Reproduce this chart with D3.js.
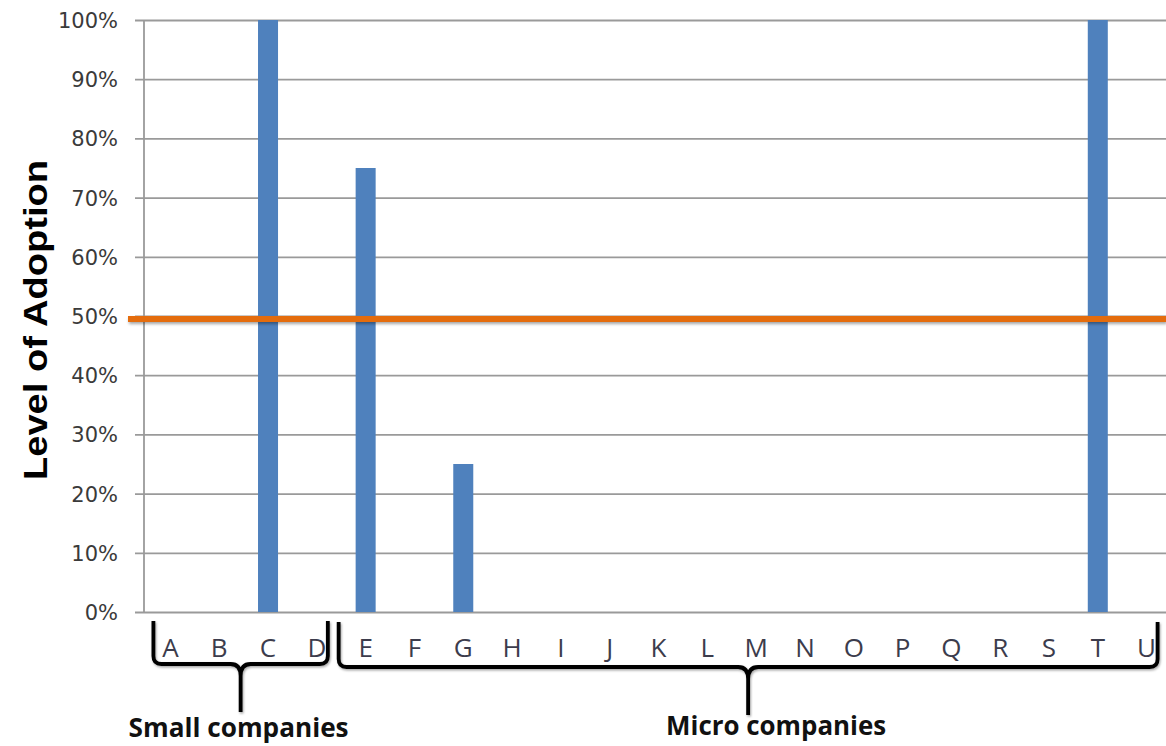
<!DOCTYPE html>
<html>
<head>
<meta charset="utf-8">
<script src="https://cdn.jsdelivr.net/npm/d3@7"></script>
<style>
  html, body { margin: 0; padding: 0; background: #fff; }
  svg { display: block; }
</style>
</head>
<body>
<svg id="chart" width="1166" height="746"></svg>
<script>
// Companies A–U and their level of adoption
const categories = ["A","B","C","D","E","F","G","H","I","J","K","L","M","N","O","P","Q","R","S","T","U"];
const adoption   = [0, 0, 1.00, 0, 0.75, 0, 0.25, 0, 0, 0, 0, 0, 0, 0, 0, 0, 0, 0, 0, 1.00, 0];
const yTicks     = [0, 0.1, 0.2, 0.3, 0.4, 0.5, 0.6, 0.7, 0.8, 0.9, 1.0];
const threshold  = 0.5;
const groups     = [
  { label: "Small companies", from: "A", to: "D" },
  { label: "Micro companies", from: "E", to: "U" }
];

const svg = d3.select("#chart");
const W = 1166, H = 746;
const plot = { left: 144, right: 1171, top: 20, bottom: 612 };

const x = d3.scaleBand().domain(categories).range([plot.left + 2, plot.right]).paddingInner(0.59).paddingOuter(0.295);
const y = d3.scaleLinear().domain([0, 1]).range([plot.bottom, plot.top]);
const cx = c => x(c) + x.bandwidth() / 2;

const defs = svg.append("defs");
const sh = defs.append("filter").attr("id", "shadow").attr("filterUnits", "userSpaceOnUse")
  .attr("x", 0).attr("y", 0).attr("width", W).attr("height", H);
sh.append("feDropShadow").attr("dx", 1).attr("dy", 2).attr("stdDeviation", 1.6).attr("flood-color", "#000").attr("flood-opacity", 0.35);
const sh2 = defs.append("filter").attr("id", "shadow2").attr("filterUnits", "userSpaceOnUse")
  .attr("x", 0).attr("y", 0).attr("width", W).attr("height", H);
sh2.append("feDropShadow").attr("dx", 1).attr("dy", 1.5).attr("stdDeviation", 1.2).attr("flood-color", "#000").attr("flood-opacity", 0.35);

// horizontal gridlines with outside ticks
const yAxis = d3.axisLeft(y).tickValues(yTicks).tickFormat(d3.format(".0%"))
  .tickSize(-(W - plot.left)).tickPadding(26);
const gy = svg.append("g").attr("transform", `translate(${plot.left},0)`).call(yAxis);
gy.select(".domain").remove();
gy.selectAll(".tick line").attr("x1", -9).attr("stroke", "#9a9a9a").attr("stroke-width", 1.8);
gy.selectAll(".tick text")
  .attr("font-family", "'DejaVu Sans', Verdana, sans-serif")
  .attr("font-size", 21).attr("fill", "#3a3a3a").attr("dy", "0.36em");

// vertical axis line
svg.append("line").attr("x1", plot.left).attr("x2", plot.left)
  .attr("y1", plot.top).attr("y2", plot.bottom).attr("stroke", "#9a9a9a").attr("stroke-width", 1.8);

// bars
svg.append("g").selectAll("rect").data(categories.map((c, i) => ({ c, v: adoption[i] })).filter(d => d.v > 0))
  .join("rect")
  .attr("x", d => x(d.c)).attr("width", x.bandwidth())
  .attr("y", d => y(d.v)).attr("height", d => y(0) - y(d.v))
  .attr("fill", "#4f81bd");

// 50% threshold line
svg.append("line").attr("x1", 128).attr("x2", W)
  .attr("y1", y(threshold) + 3).attr("y2", y(threshold) + 3)
  .attr("stroke", "#e46c0a").attr("stroke-width", 6).attr("filter", "url(#shadow)");

// category labels
const gx = svg.append("g").attr("transform", `translate(0,${plot.bottom})`)
  .call(d3.axisBottom(x).tickSize(0).tickPadding(32));
gx.select(".domain").remove();
gx.selectAll(".tick text")
  .attr("font-family", "'Open Sans', sans-serif").attr("font-size", 26)
  .attr("fill", "#3c3c4c").attr("dy", "0.5em");

// y-axis title
svg.append("text")
  .attr("transform", `translate(47,${(plot.top + plot.bottom) / 2 + 4}) rotate(-90)`)
  .attr("text-anchor", "middle")
  .attr("font-family", "'Liberation Sans', Arial, sans-serif")
  .attr("font-weight", "bold").attr("font-size", 34).attr("fill", "#000")
  .attr("textLength", 320).attr("lengthAdjust", "spacingAndGlyphs")
  .text("Level of Adoption");

// group braces
const braceDims = [
  { l: -17, r: 11, top: 621, hy: 664, tip: 712, labelY: 737 },
  { l: -27, r: 11, top: 622, hy: 667, tip: 715, labelY: 735 }
];
groups.forEach((g, i) => {
  const d = braceDims[i];
  const L = cx(g.from) + d.l, R = cx(g.to) + d.r, M = (L + R) / 2;
  const p = d3.path();
  p.moveTo(L, d.top);
  p.lineTo(L, d.hy - 8);
  p.quadraticCurveTo(L, d.hy, L + 8, d.hy);
  p.lineTo(M - 10, d.hy);
  p.quadraticCurveTo(M, d.hy, M, d.hy + 12);
  p.lineTo(M, d.tip);
  p.moveTo(M, d.hy + 12);
  p.quadraticCurveTo(M, d.hy, M + 10, d.hy);
  p.lineTo(R - 8, d.hy);
  p.quadraticCurveTo(R, d.hy, R, d.hy - 8);
  p.lineTo(R, d.top);
  svg.append("path").attr("d", p.toString())
    .attr("fill", "none").attr("stroke", "#000").attr("stroke-width", 3.8)
    .attr("stroke-linejoin", "round").attr("filter", "url(#shadow2)");
  svg.append("text").attr("x", M + (i === 0 ? -2 : 28)).attr("y", d.labelY)
    .attr("text-anchor", "middle")
    .attr("font-family", "'Open Sans', sans-serif").attr("font-weight", 700)
    .attr("font-size", 27).attr("fill", "#111")
    .attr("textLength", 220).attr("lengthAdjust", "spacingAndGlyphs")
    .text(g.label);
});
</script>
</body>
</html>
